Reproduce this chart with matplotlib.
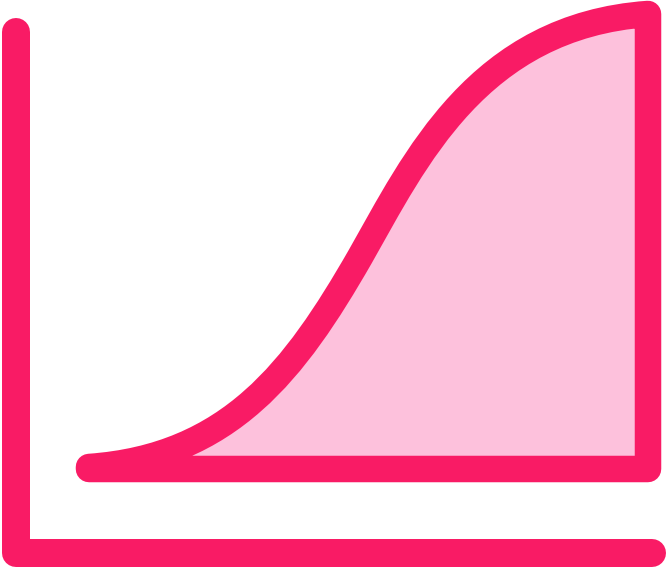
import matplotlib
matplotlib.use('Agg')
import matplotlib.pyplot as plt
from matplotlib.path import Path
from matplotlib.patches import PathPatch

PINK = '#F91B65'
FILL = '#FDC1DC'

# curve as two cubic beziers (anchors and handles) in image pixels
curve_x = [89, 230, 295, 360, 415, 478, 648]
curve_y = [467, 457, 370, 257, 160, 26, 14]
corner = (648, 469)
axis_x = [15.5, 15.5, 652]
axis_y = [32, 552.5, 552.5]

fig = plt.figure(figsize=(6.67, 5.68), dpi=100, facecolor='white')
ax = fig.add_axes([0, 0, 1, 1])
ax.set_xlim(0, 667)
ax.set_ylim(568, 0)
ax.axis('off')

pts = list(zip(curve_x, curve_y))
verts = pts + [corner, (curve_x[0], corner[1]), pts[0]]
codes = [Path.MOVETO] + [Path.CURVE4] * 6 + [Path.LINETO, Path.LINETO, Path.CLOSEPOLY]

ax.add_patch(PathPatch(Path(verts, codes), facecolor=FILL, edgecolor=PINK,
                       lw=26.5 * 72 / 100, joinstyle='round'))
ax.plot(axis_x, axis_y, color=PINK, lw=28 * 72 / 100, solid_joinstyle='round',
        solid_capstyle='round')

fig.savefig('out.png', dpi=100, facecolor='white')
